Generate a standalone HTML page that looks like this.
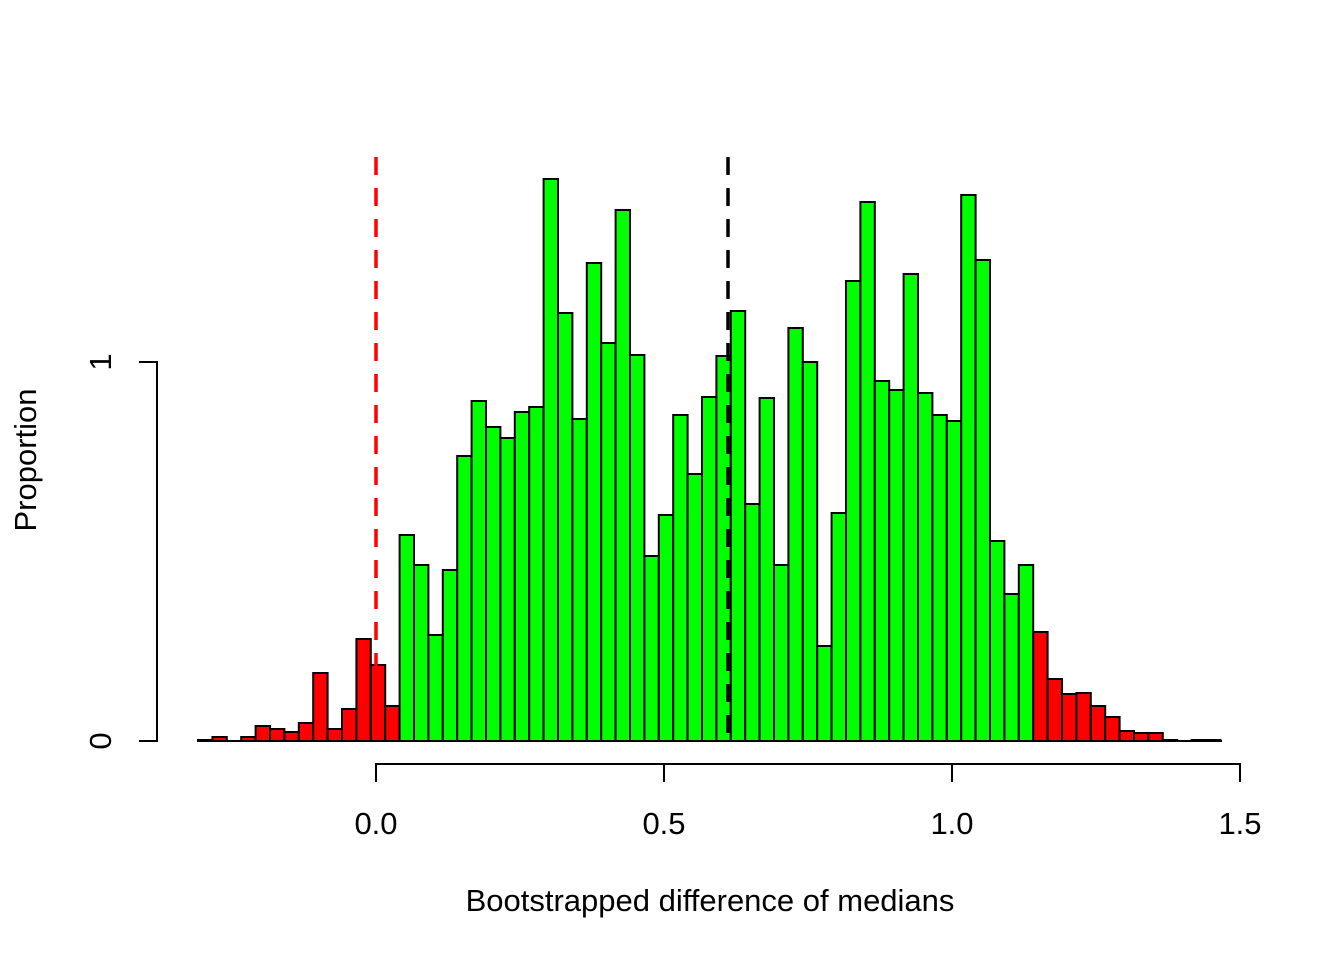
<!DOCTYPE html>
<html><head><meta charset="utf-8"><style>html,body{margin:0;padding:0;background:#fff}svg{display:block}</style></head>
<body>
<svg id="s" width="1344" height="960" xmlns="http://www.w3.org/2000/svg" font-family="Liberation Sans, Arial, sans-serif">
<g id="bars" stroke="#000" stroke-width="2"></g>
<line x1="376" y1="157" x2="376" y2="741" stroke="#ff0000" stroke-width="3.5" stroke-dasharray="18,13"/>
<line x1="728" y1="157" x2="728" y2="741" stroke="#000" stroke-width="3.5" stroke-dasharray="18,13"/>
<g stroke="#000" stroke-width="2" fill="none">
<path d="M139,362 H157 V741 H139"/>
<path d="M376,782 V764 H1240 V782 M664,764 V782 M952,764 V782"/>
<path d="M198,741 H1222"/>
</g>
<g font-size="31" fill="#000" text-anchor="middle">
<text x="376" y="834">0.0</text>
<text x="664" y="834">0.5</text>
<text x="952" y="834">1.0</text>
<text x="1240" y="834">1.5</text>
<text x="710" y="911">Bootstrapped difference of medians</text>
<text transform="translate(111,741) rotate(-90)">0</text>
<text transform="translate(111,362) rotate(-90)">1</text>
<text transform="translate(36,460) rotate(-90)">Proportion</text>
</g>
</svg>
<script>
var tops=[740,737,741,737,726,729,732,723,673,729,709,639,665,706,
535,565,635,570,456,401,427,438,412,407,179,313,419,263,343,210,355,556,515,415,474,397,356,311,504,398,565,328,362,646,513,281,202,381,390,274,393,415,421,195,260,541,594,565,
632,679,694,693,706,717,731,733,733,740,741,740,740];
var g=document.getElementById('bars'),h='';
for(var i=0;i<tops.length;i++){
 var x=198+14.4*i, t=tops[i];
 if(t>=741){continue;}
 var c=(i>=14&&i<=57)?'#00ff00':'#ff0000';
 h+='<rect x="'+x.toFixed(1)+'" y="'+t+'" width="14.4" height="'+(741-t)+'" fill="'+c+'"/>';
}
g.innerHTML=h;
</script>
</body></html>
